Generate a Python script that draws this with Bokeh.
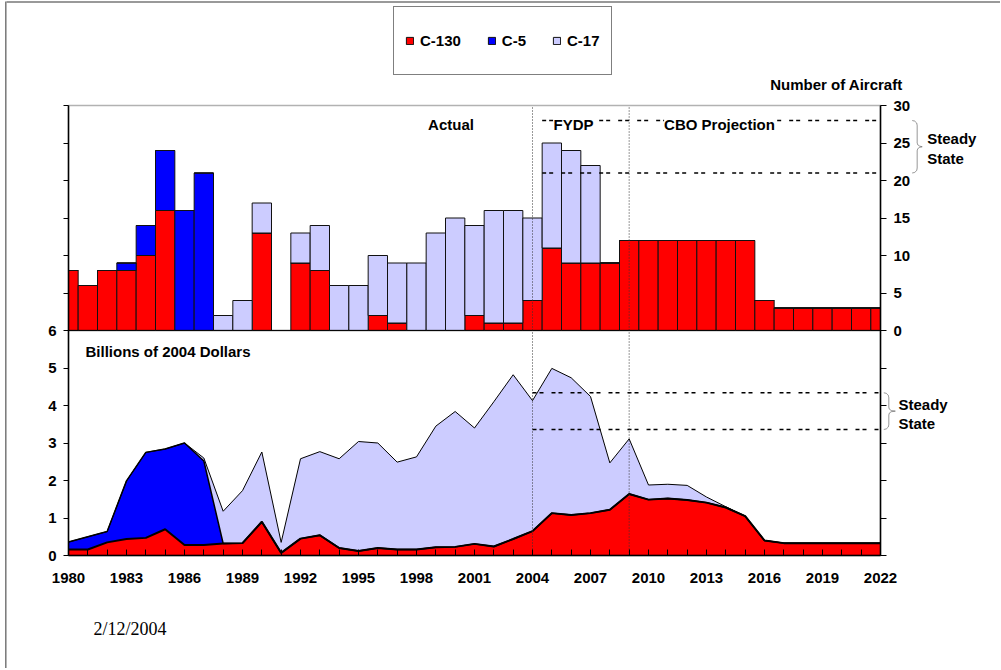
from bokeh.plotting import figure
from bokeh.models import (Range1d, LinearAxis, FixedTicker, Label, Legend,
                          LegendItem, ColumnDataSource, PolyAnnotation, BoxAnnotation)
from bokeh.embed import file_html
from bokeh.resources import INLINE

# ---------------- data ----------------
years = list(range(1980, 2023))

# number of aircraft (top chart)
c130_aircraft = [8, 6, 8, 8, 10, 16, 0, 0, 0, 0,
                 13, 0, 9, 8, 0, 0, 2, 1, 0, 0,
                 0, 2, 1, 1, 4, 11, 9, 9, 9, 12,
                 12, 12, 12, 12, 12, 12, 4, 3, 3, 3,
                 3, 3, 3]
c5_aircraft = [0, 0, 0, 1, 4, 8, 16, 21, 0, 0,
               0, 0, 0, 0, 0, 0, 0, 0, 0, 0,
               0, 0, 0, 0, 0, 0, 0, 0, 0, 0,
               0, 0, 0, 0, 0, 0, 0, 0, 0, 0,
               0, 0, 0]
c17_aircraft = [0, 0, 0, 0, 0, 0, 0, 0, 2, 4,
                4, 0, 4, 6, 6, 6, 8, 8, 9, 13,
                15, 12, 15, 15, 11, 14, 15, 13, 0, 0,
                0, 0, 0, 0, 0, 0, 0, 0, 0, 0,
                0, 0, 0]

# billions of 2004 dollars (bottom chart)
c130_dollars = [0.16, 0.16, 0.35, 0.44, 0.47, 0.70, 0.28, 0.28, 0.32, 0.33,
                0.90, 0.07, 0.45, 0.54, 0.20, 0.12, 0.20, 0.16, 0.16, 0.22,
                0.23, 0.31, 0.24, 0.44, 0.65, 1.13, 1.08, 1.13, 1.22, 1.64,
                1.49, 1.52, 1.48, 1.41, 1.28, 1.05, 0.40, 0.33, 0.33, 0.33,
                0.33, 0.33, 0.33]
c5_dollars = [0.20, 0.34, 0.29, 1.55, 2.28, 2.14, 2.72, 2.24, 0.0, 0.0,
              0.0, 0.0, 0.0, 0.0, 0.0, 0.0, 0.0, 0.0, 0.0, 0.0,
              0.0, 0.0, 0.0, 0.0, 0.0, 0.0, 0.0, 0.0, 0.0, 0.0,
              0.0, 0.0, 0.0, 0.0, 0.0, 0.0, 0.0, 0.0, 0.0, 0.0,
              0.0, 0.0, 0.0]
c17_dollars = [0.0, 0.0, 0.0, 0.0, 0.0, 0.0, 0.0, 0.08, 0.86, 1.40,
               1.86, 0.28, 2.13, 2.23, 2.38, 2.92, 2.80, 2.33, 2.47, 3.23,
               3.61, 3.09, 3.86, 4.38, 3.48, 3.86, 3.66, 3.11, 1.25, 1.47,
               0.39, 0.38, 0.39, 0.15, 0.02, 0.0, 0.0, 0.0, 0.0, 0.0,
               0.0, 0.0, 0.0]

steady_aircraft = [21, 28]
steady_dollars = [3.36, 4.34]
period_breaks = [2004, 2009]
series_names = ["C-130", "C-5", "C-17"]
colors = ["#FF0000", "#0000FF", "#CCCCFF"]

FONT = "Liberation Sans"

# ---------------- layout geometry (pixels) ----------------
W, H = 1000, 668
FX0, FX1 = 68, 880          # plot area left / right
FY_TOP, FY_MID, FY_BOT = 105, 330, 555
PX_X = (FX1 - FX0) / (years[-1] - years[0])
PX_B = (FY_BOT - FY_MID) / 6.0     # pixels per billion
PX_A = (FY_MID - FY_TOP) / 30.0    # pixels per aircraft


def px2x(px):
    return years[0] + (px - FX0) / PX_X


def py2b(py):
    return (FY_BOT - py) / PX_B


def py2a(py):
    return (FY_MID - py) / PX_A


def a2b(n):
    # aircraft value expressed on the billions (default) range
    return py2b(FY_MID - n * PX_A)


p = figure(width=W, height=H,
           x_range=Range1d(px2x(0), px2x(W)), y_range=Range1d(py2b(H), py2b(0)),
           output_backend="svg", toolbar_location=None,
           min_border_left=0, min_border_right=0,
           min_border_top=0, min_border_bottom=0)
p.extra_y_ranges = {"aircraft": Range1d(py2a(H), py2a(0))}
p.xgrid.visible = False
p.ygrid.visible = False
p.outline_line_color = None
p.background_fill_color = "white"
p.border_fill_color = "white"

# bar geometry clipped to the plotted year span
bar_left = [max(y - 0.5, years[0]) for y in years]
bar_right = [min(y + 0.5, years[-1]) for y in years]
src = ColumnDataSource(dict(year=years,
                            xc=[(a + b) / 2 for a, b in zip(bar_left, bar_right)],
                            w=[b - a for a, b in zip(bar_left, bar_right)],
                            c130=c130_aircraft, c5=c5_aircraft, c17=c17_aircraft,
                            d130=c130_dollars, d5=c5_dollars, d17=c17_dollars))

# top chart: stacked bars (number of aircraft)
bars = p.vbar_stack(["c130", "c5", "c17"], x="xc", width="w", source=src,
                    fill_color=colors, line_color="#111111", line_width=1,
                    y_range_name="aircraft")

# bottom chart: stacked areas (dollars)
p.varea_stack(["d130", "d5", "d17"], x="year", source=src, fill_color=colors)
cum1 = [a for a in c130_dollars]
cum2 = [a + b for a, b in zip(c130_dollars, c5_dollars)]
cum3 = [a + b + c for a, b, c in zip(c130_dollars, c5_dollars, c17_dollars)]
p.line(years, cum3, line_color="black", line_width=1)
p.line(years, cum2, line_color="black", line_width=1.5)
p.line(years, cum1, line_color="black", line_width=2)

# steady state dashed lines
for v in steady_aircraft:
    p.line([2004.5, years[-1]], [v, v], y_range_name="aircraft", line_color="black",
           line_width=1.5, line_dash="4 3 4 8")
for v in steady_dollars:
    p.line([2004, years[-1]], [v, v], line_color="black",
           line_width=1.5, line_dash="4 3 4 8")

# period separators
p.segment(x0=period_breaks, y0=[0] * len(period_breaks), x1=period_breaks,
          y1=[12] * len(period_breaks), line_color="#333333", line_width=1, line_dash="1 2")

# panel frames
p.add_layout(BoxAnnotation(left=years[0], right=years[-1], bottom=6, top=12,
                           fill_alpha=0, line_color="black", line_width=1.5))
p.add_layout(BoxAnnotation(left=years[0], right=years[-1], bottom=0, top=6,
                           fill_alpha=0, line_color="black", line_width=1.5))

# slide border
p.line([px2x(6), px2x(W)], [py2b(1.5), py2b(1.5)], line_color="#777777", line_width=1.5)
p.line([px2x(5.3), px2x(5.3)], [py2b(1), py2b(H)], line_color="#777777", line_width=1.5)

# ---------------- axes ----------------
lab_font_size = "15px"


def style_axis(ax, tick_in, tick_out, standoff):
    ax.major_tick_in = tick_in
    ax.major_tick_out = tick_out
    ax.minor_tick_line_color = None
    ax.axis_line_width = 1.5
    ax.major_tick_line_width = 1
    ax.major_label_standoff = standoff
    ax.major_label_text_font = FONT
    ax.major_label_text_font_style = "bold"
    ax.major_label_text_font_size = lab_font_size
    ax.major_label_text_color = "black"


xa = p.xaxis[0]
xa.ticker = FixedTicker(ticks=years)
xa.major_label_overrides = {y: (str(y) if (y - 1980) % 3 == 0 else "") for y in years}
xa.fixed_location = 0
xa.bounds = (years[0], years[-1])
style_axis(xa, 6, 0, 17)

ya = p.yaxis[0]
ya.ticker = FixedTicker(ticks=list(range(0, 13)))
ya.major_label_overrides = {i: ("" if i > 6 else str(i)) for i in range(0, 13)}
ya.fixed_location = years[0]
ya.bounds = (0, 12)
style_axis(ya, 0, 5, 7)

ra = LinearAxis(y_range_name="aircraft",
                ticker=FixedTicker(ticks=list(range(-30, 31, 5))),
                major_label_overrides={t: ("" if t < 0 else str(t)) for t in range(-30, 31, 5)})
ra.fixed_location = years[-1]
ra.bounds = (-30, 30)
style_axis(ra, 0, 6, 7)
p.add_layout(ra, "right")


# ---------------- texts ----------------
def lbl(x, y, text, yr=None, align="left", size="15px", font=FONT, style="bold", bg=None):
    kw = dict(x=x, y=y, text=text, text_font=font, text_font_size=size,
              text_font_style=style, text_align=align, text_baseline="middle",
              text_color="black")
    if yr:
        kw["y_range_name"] = yr
    if bg:
        kw["background_fill_color"] = bg
    p.add_layout(Label(**kw))


lbl(px2x(450.5), py2a(123.5), "Actual", yr="aircraft", align="center", bg="white")
lbl(px2x(573), py2a(123.5), "FYDP", yr="aircraft", align="center", bg="white")
lbl(px2x(719), py2a(123.5), "CBO Projection", yr="aircraft", align="center", bg="white")
lbl(px2x(836), py2a(84), "Number of Aircraft", yr="aircraft", align="center")
lbl(px2x(85), py2b(350.7), "Billions of 2004 Dollars")
lbl(px2x(926.7), py2a(138.3), "Steady", yr="aircraft")
lbl(px2x(926.7), py2a(158.3), "State", yr="aircraft")
lbl(px2x(898), py2b(404), "Steady")
lbl(px2x(898), py2b(423), "State")
lbl(px2x(93), py2b(628), "2/12/2004", size="18px", font="Liberation Serif", style="normal")


# braces (drawn on the default billions range)
def brace(x0, lo, hi, w=10.0):
    mid = (lo + hi) / 2.0
    u = 1.0 / PX_B
    xs_px = [0, 2.5, 4.5, 5, 5, 5.5, 7.5, w, 7.5, 5.5, 5, 5, 4.5, 2.5, 0]
    ys = [hi, hi - 0.6 * u, hi - 2.5 * u, hi - 5 * u, mid + 4 * u, mid + 2 * u, mid + 0.6 * u, mid,
          mid - 0.6 * u, mid - 2 * u, mid - 4 * u, lo + 5 * u, lo + 2.5 * u, lo + 0.6 * u, lo]
    xs = [x0 + d / PX_X for d in xs_px]
    return xs + xs[::-1], ys + ys[::-1]


bx, by = brace(px2x(911.7), a2b(steady_aircraft[0]), a2b(steady_aircraft[1]))
p.add_layout(PolyAnnotation(xs=bx, ys=by, fill_alpha=0,
                            line_color="#444444", line_width=1))
bx, by = brace(px2x(883.3), steady_dollars[0], steady_dollars[1], w=11.5)
p.add_layout(PolyAnnotation(xs=bx, ys=by, fill_alpha=0,
                            line_color="#444444", line_width=1))

# ---------------- legend ----------------
legend = Legend(items=[LegendItem(label=n, renderers=[r]) for n, r in zip(series_names, bars)],
                location=(393, H - 75), orientation="horizontal",
                padding=11, spacing=26, glyph_width=9, glyph_height=9,
                label_standoff=6, label_height=45,
                label_text_font=FONT, label_text_font_style="bold",
                label_text_font_size="15px", label_text_color="black",
                border_line_color="black", border_line_width=1,
                background_fill_color="white", margin=0)
p.add_layout(legend)

open("out.html", "w").write(file_html(p, INLINE))
